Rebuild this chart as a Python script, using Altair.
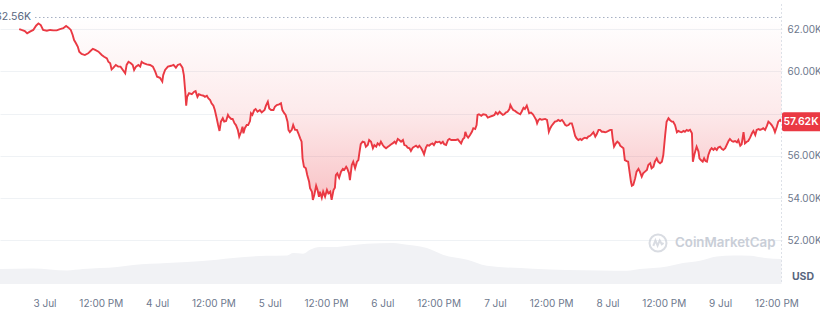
import altair as alt
import pandas as pd

# ---- data (hours since 3 Jul 00:00, BTC price in USD) ----
hours_a = [-5.4, -4.9, -4.2, -3.7, -3.1, -2.4, -1.8, -1.3, -0.8, -0.3, 0.5, 1.2, 1.9, 2.6, 3.3,
           4.0, 4.6, 5.1, 5.6, 6.0, 6.3, 6.7, 7.1, 7.4, 7.9, 8.6, 9.3, 9.8, 10.3, 10.8, 11.5, 12.2,
           12.7, 13.3, 13.6, 14.0, 14.3, 14.7, 15.2, 15.7, 16.2, 16.7, 17.2, 17.5, 17.9, 18.4, 18.8,
           19.1, 19.5, 20.0, 20.4, 20.7, 21.1, 21.8, 22.5, 23.1, 23.6, 24.0, 24.6]
prices_a = [62010, 61970, 61920, 61810, 61890, 61970, 62170, 62280, 62200, 61970, 61930, 61970, 61950,
            61950, 62010, 62050, 62160, 62080, 61970, 61730, 61490, 61340, 61170, 60940, 60830, 60780,
            60860, 60970, 61070, 61020, 60940, 60780, 60700, 60620, 60460, 60390, 60100, 60180, 60310,
            60230, 60230, 60070, 59910, 60310, 60460, 60390, 60310, 60070, 60230, 60310, 60230, 60460,
            60390, 60340, 60310, 60230, 59990, 59750, 59700]

hours_b = [25.1, 25.3, 25.7, 26.3, 27.0, 27.5, 28.0, 28.4, 28.9, 29.4, 29.7, 30.0, 30.2, 30.4, 30.8,
           31.4, 31.9, 32.2, 32.6, 32.9, 33.4, 33.9, 34.2, 34.6, 34.9, 35.3, 35.6, 36.0, 36.3, 36.7,
           37.0, 37.3, 37.6, 38.0, 38.3, 38.7, 39.1, 39.3, 39.8, 40.1, 40.5, 40.8, 41.2, 41.5, 41.9,
           42.2, 42.4, 42.7, 43.1, 43.4, 43.8, 44.0, 44.3, 44.7, 45.0, 45.4, 45.9, 46.3, 46.9, 47.2,
           47.6, 47.9, 48.3, 48.8, 49.1, 49.5, 50.0, 50.4, 50.7, 51.1, 51.4, 51.8, 52.0, 52.3, 52.7,
           53.0, 53.4, 53.8, 54.1, 54.5, 54.8, 55.0, 55.3, 55.7, 56.0, 56.4]
prices_b = [59520, 59830, 60070, 60230, 60270, 60310, 60180, 60310, 60350, 60180, 59830, 59040, 58380,
            58800, 58970, 58920, 59040, 59070, 58800, 58920, 58880, 58850, 58800, 58850, 58730, 58650,
            58490, 58380, 58170, 57780, 57460, 57180, 57620, 57780, 57620, 57650, 57940, 57860, 57750,
            57750, 57540, 57460, 57230, 56910, 57140, 57380, 57070, 57310, 57460, 57460, 57650, 58020,
            57940, 58170, 58220, 58090, 58170, 58060, 58170, 58380, 58570, 58250, 58170, 58170, 58330,
            58410, 58440, 58490, 58170, 58020, 57940, 57620, 57230, 57120, 57230, 57460, 57230, 57230,
            57070, 56830, 56670, 55880, 55480, 55410, 55090, 54770]

hours_c = [56.6, 57.0, 57.2, 57.5, 57.9, 58.2, 58.5, 58.7, 59.1, 59.4, 59.8, 60.2, 60.5, 60.9, 61.2,
           61.6, 61.9, 62.1, 62.4, 62.8, 63.2, 63.6, 63.9, 64.3, 64.5, 64.9, 65.1, 65.5, 65.8, 66.2,
           66.6, 66.9, 67.1, 67.4, 67.8, 68.2, 68.5, 68.9, 69.2, 69.6, 70.0, 70.3, 70.7, 71.0, 71.4,
           71.7, 72.1, 72.4, 72.8, 73.2, 73.5, 73.9, 74.2, 74.6, 74.9, 75.3, 75.6, 76.0, 76.4, 76.7,
           77.1, 77.4, 77.8, 78.1, 78.5, 78.8, 79.2, 79.6, 79.9, 80.3, 80.6, 80.9, 81.3, 81.6, 82.0,
           82.3, 82.7, 83.0, 83.4, 83.7, 84.2, 84.5, 84.9, 85.2, 85.6, 86.0, 86.3, 86.7, 87.0, 87.4,
           87.7, 88.1, 88.4, 88.8, 89.2, 89.5, 89.7, 90.0, 90.3, 90.7]
prices_c = [54460, 54300, 53910, 54140, 54580, 54380, 54060, 54300, 54010, 54300, 54060, 54380, 54220,
            54300, 53910, 54380, 54490, 55090, 55170, 54960, 55250, 55380, 55330, 55480, 55410, 55170,
            54850, 55570, 55720, 55410, 55720, 55800, 56120, 56550, 56670, 56640, 56430, 56510, 56750,
            56670, 56360, 56510, 56430, 56590, 56510, 56670, 56510, 56430, 56360, 56430, 56480, 56550,
            56590, 56670, 56590, 56800, 56750, 56670, 56750, 56510, 56480, 56390, 56360, 56230, 56390,
            56430, 56480, 56400, 56480, 56360, 56230, 56070, 56390, 56510, 56480, 56550, 56590, 56510,
            56670, 56640, 56670, 56590, 56670, 56550, 56510, 56750, 56800, 56750, 56750, 56750, 56750,
            56780, 56700, 56590, 56800, 56860, 57140, 56950, 56860, 56990]

hours_d = [91.1, 91.4, 91.8, 92.1, 92.3, 92.6, 93.1, 93.5, 94.1, 94.5, 95.0, 95.5, 95.9, 96.2, 96.6,
           97.0, 97.3, 97.7, 98.0, 98.4, 98.7, 99.1, 99.3, 99.6, 99.9, 100.3, 100.7, 101.0, 101.4,
           101.7, 102.1, 102.4, 102.8, 103.1, 103.3, 103.7, 104.1, 104.4, 104.8, 105.0, 105.3, 105.6,
           106.0, 106.7, 107.1, 107.3, 107.5, 107.8, 108.1, 108.5, 108.8, 109.2, 109.5, 109.9, 110.3,
           110.6, 111.0, 111.3, 111.7, 112.0, 112.4, 112.7, 113.1, 113.4, 113.8, 114.2, 114.5, 114.9,
           115.2, 115.6, 115.9, 116.3, 116.6, 117.0, 117.4, 117.7, 118.1, 118.4, 118.8, 119.1, 119.5,
           119.8, 120.2, 120.6, 120.9, 121.1, 121.4, 121.8, 122.1, 122.5]
prices_d = [57140, 57310, 57270, 57460, 57940, 57970, 57900, 57970, 57940, 57810, 57860, 57900, 57940,
            58060, 57970, 58090, 58020, 57940, 57970, 58060, 58090, 58220, 58410, 58280, 58170, 58130,
            58060, 58020, 57970, 58090, 58280, 58220, 58380, 58170, 58020, 58050, 57970, 57860, 57700,
            57540, 57700, 57750, 57710, 57750, 57700, 57460, 57140, 57310, 57430, 57540, 57620, 57650,
            57700, 57650, 57700, 57620, 57460, 57430, 57460, 57540, 57540, 57310, 56950, 56830, 56750,
            56800, 56750, 56830, 56860, 56830, 56910, 56950, 57020, 57120, 56910, 57020, 57230, 57230,
            57140, 57140, 57120, 57140, 57180, 57230, 57230, 56830, 56430, 56590, 56670, 56590]

hours_e = [122.7, 123.0, 123.4, 123.7, 124.1, 124.4, 124.8, 125.0, 125.2, 125.5, 125.9, 126.2, 126.6,
           126.9, 127.3, 127.6, 128.0, 128.4, 128.7, 129.1, 129.4, 129.8, 130.1, 130.5, 130.8, 131.2,
           131.6, 131.9, 132.3, 132.6, 133.0, 133.3, 133.7, 134.0, 134.4, 134.8, 135.1, 135.5, 135.8,
           136.2, 136.5, 136.9, 137.2, 137.6, 138.0, 138.2, 138.5, 138.7, 139.0, 139.4, 139.6, 139.9,
           140.3, 140.6, 140.9, 141.2, 141.5, 141.9, 142.2, 142.6, 142.9, 143.3, 143.6, 144.0, 144.4,
           144.7, 145.1, 145.4, 145.8, 146.1, 146.5, 146.8, 147.2, 147.6, 147.9, 148.3, 148.6, 149.0,
           149.3, 149.7, 150.0, 150.4, 150.8, 151.1, 151.5, 151.8, 152.2, 152.5, 152.9, 153.2, 153.6,
           154.0, 154.3, 154.7, 155.0, 155.4, 155.7, 156.1, 156.4, 156.8, 157.1]
prices_e = [56480, 56430, 56360, 55800, 55750, 55720, 55090, 54770, 54580, 54620, 54930, 55250, 55380,
            55250, 55010, 55170, 55250, 55330, 55570, 55650, 55410, 55480, 55720, 55880, 55720, 55650,
            55720, 56040, 56990, 57620, 57780, 57700, 57620, 57620, 57460, 57120, 57180, 57140, 57120,
            57180, 57140, 57230, 57180, 57230, 57070, 55720, 56040, 56200, 56430, 56200, 55880, 55800,
            55720, 55880, 55750, 55720, 56040, 56280, 56360, 56280, 56360, 56280, 56390, 56430, 56320,
            56280, 56360, 56510, 56700, 56800, 56700, 56670, 56700, 56640, 56750, 56480, 56550, 57120,
            56590, 56670, 56700, 56860, 57070, 57180, 56990, 57230, 57270, 57230, 57270, 57310, 57230,
            57430, 57620, 57540, 57460, 57310, 57120, 57380, 57620, 57700, 57620]

# 24h volume (billions USD, relative)
vol_hours = [-9.5, -2.5, 4.8, 8.2, 15.5, 18.9, 26.1, 30.4, 36.8, 40.2, 47.4, 51.7, 53.0, 55.1, 56.6,
             58.7, 61.5, 65.1, 68.7, 74.3, 77.3, 80.1, 81.5, 84.9, 90.1, 94.3, 104.1, 118.4, 124.2,
             126.9, 132.7, 136.1, 139.7, 143.3, 146.8, 150.4, 153.6, 157.1]
vol_values = [15.0, 15.6, 13.6, 15.0, 17.0, 19.0, 21.0, 22.0, 24.3, 26.0, 28.3, 28.6, 31.0, 30.3, 34.3,
              37.0, 37.0, 38.6, 40.3, 41.0, 39.3, 37.6, 36.0, 29.3, 24.3, 18.3, 15.3, 13.6, 13.3,
              15.0, 17.6, 21.0, 23.3, 27.6, 28.6, 28.3, 26.0, 25.0]

tick_hours = [0, 12, 24, 36, 48, 60, 72, 84, 96, 108, 120, 132, 144, 156]
tick_labels = ["3 Jul", "12:00 PM", "4 Jul", "12:00 PM", "5 Jul", "12:00 PM", "6 Jul",
               "12:00 PM", "7 Jul", "12:00 PM", "8 Jul", "12:00 PM", "9 Jul", "12:00 PM"]
y_ticks = [52000, 54000, 56000, 58000, 60000, 62000]
period_high = 62560
last_price = 57620

hours = hours_a + hours_b + hours_c + hours_d + hours_e
prices = prices_a + prices_b + prices_c + prices_d + prices_e
assert len(hours) == len(prices)
assert len(vol_hours) == len(vol_values)

price_df = pd.DataFrame({"h": hours, "price": prices})
vol_df = pd.DataFrame({"h": vol_hours, "vol": vol_values})

RED = "#ea3943"
LABEL = "#6d788d"
FONT = "Inter"
X_DOMAIN = [-9.49, 157.2]
Y_DOMAIN = [49922, 63200]

label_arr = "[" + ",".join("'%s'" % t for t in tick_labels) + "]"
x_enc = alt.X(
    "h:Q", title=None,
    scale=alt.Scale(domain=X_DOMAIN, nice=False, zero=False),
    axis=alt.Axis(values=tick_hours, labelExpr=label_arr + "[round(datum.value/12)]",
                  grid=False, ticks=False, domain=False, labelPadding=14,
                  labelFontSize=10, labelColor=LABEL, labelFont=FONT, labelFlush=False),
)
y_scale = alt.Scale(domain=Y_DOMAIN, nice=False, zero=False)
y_enc = alt.Y(
    "price:Q", title=None, scale=y_scale,
    axis=alt.Axis(orient="right", values=y_ticks,
                  labelExpr="datum.value == 58000 ? '' : format(datum.value/1000, '.2f') + 'K'",
                  grid=True, gridColor="#eff2f5", ticks=False, domain=False, labelPadding=5,
                  labelFontSize=10, labelColor=LABEL, labelFont=FONT),
)

volume = alt.Chart(vol_df).mark_area(color="#f1f2f5", interpolate="monotone", clip=True).encode(
    x=x_enc,
    y=alt.Y("vol:Q", scale=alt.Scale(domain=[0, 280], nice=False), axis=None),
)

grad = alt.Gradient(
    gradient="linear",
    stops=[alt.GradientStop(color="rgba(234,57,67,0.0)", offset=0),
           alt.GradientStop(color="rgba(234,57,67,0.10)", offset=0.5),
           alt.GradientStop(color="rgba(234,57,67,0.30)", offset=1)],
    x1=0, x2=0, y1=0, y2=1,
)
base = alt.Chart(price_df)
fill = base.mark_area(color=grad).encode(x=x_enc, y=y_enc, y2=alt.datum(period_high))
line = base.mark_line(color=RED, strokeWidth=1.9).encode(x=x_enc, y=y_enc)

high_rule = alt.Chart().mark_rule(color="#a6b0c3", strokeDash=[1.5, 2.5], strokeWidth=1).encode(
    x=alt.value(35), x2=alt.value(782), y=alt.datum(period_high, scale=y_scale))
high_text = alt.Chart().mark_text(align="right", baseline="middle", fontSize=10.5, color="#58667e",
                                  font=FONT).encode(
    x=alt.value(31), y=alt.datum(period_high), text=alt.value("62.56K"))
right_rule = alt.Chart().mark_rule(color="#dde1e8", strokeDash=[2, 2], strokeWidth=1).encode(
    x=alt.value(781.5), y=alt.value(0), y2=alt.value(280))
price_box = alt.Chart().mark_rect(color=RED, cornerRadius=2).encode(
    x=alt.value(782), x2=alt.value(822),
    y=alt.datum(last_price + 450), y2=alt.datum(last_price - 450))
price_text = alt.Chart().mark_text(align="center", baseline="middle", fontSize=10.5, color="white",
                                   fontWeight=600, font=FONT).encode(
    x=alt.value(801), y=alt.datum(last_price), text=alt.value("57.62K"))
usd_text = alt.Chart().mark_text(align="center", baseline="middle", fontSize=10.5, color="#58667e",
                                 fontWeight="bold", font=FONT).encode(
    x=alt.value(803), y=alt.value(273), text=alt.value("USD"))
logo_ring = alt.Chart().mark_point(shape="circle", size=289, filled=False, stroke="#c9ced7",
                                   strokeWidth=2).encode(x=alt.value(658), y=alt.value(239))
logo_wave = alt.Chart().mark_point(
    shape="M -0.55 0.35 L -0.3 -0.3 L -0.05 0.3 L 0.2 -0.3 L 0.45 0.15 L 0.65 0.0",
    size=289, filled=False, stroke="#c9ced7", strokeWidth=2).encode(x=alt.value(658), y=alt.value(239))
brand = alt.Chart().mark_text(align="left", baseline="middle", fontSize=13.3, color="#c9ced7",
                              fontWeight=600, font=FONT).encode(
    x=alt.value(675), y=alt.value(239), text=alt.value("CoinMarketCap"))

price_layers = alt.layer(fill, line, high_rule, high_text, right_rule, price_box, price_text,
                         usd_text, logo_ring, logo_wave, brand)

chart = alt.layer(volume, price_layers).resolve_scale(y="independent").properties(
    width=782, height=280,
    padding={"left": 0, "top": 4, "right": 38, "bottom": 26},
    autosize=alt.AutoSizeParams(type="none"),
    background="white",
).configure_view(stroke=None)

chart.save("out.html", embed_options={"renderer": "svg", "actions": False})
